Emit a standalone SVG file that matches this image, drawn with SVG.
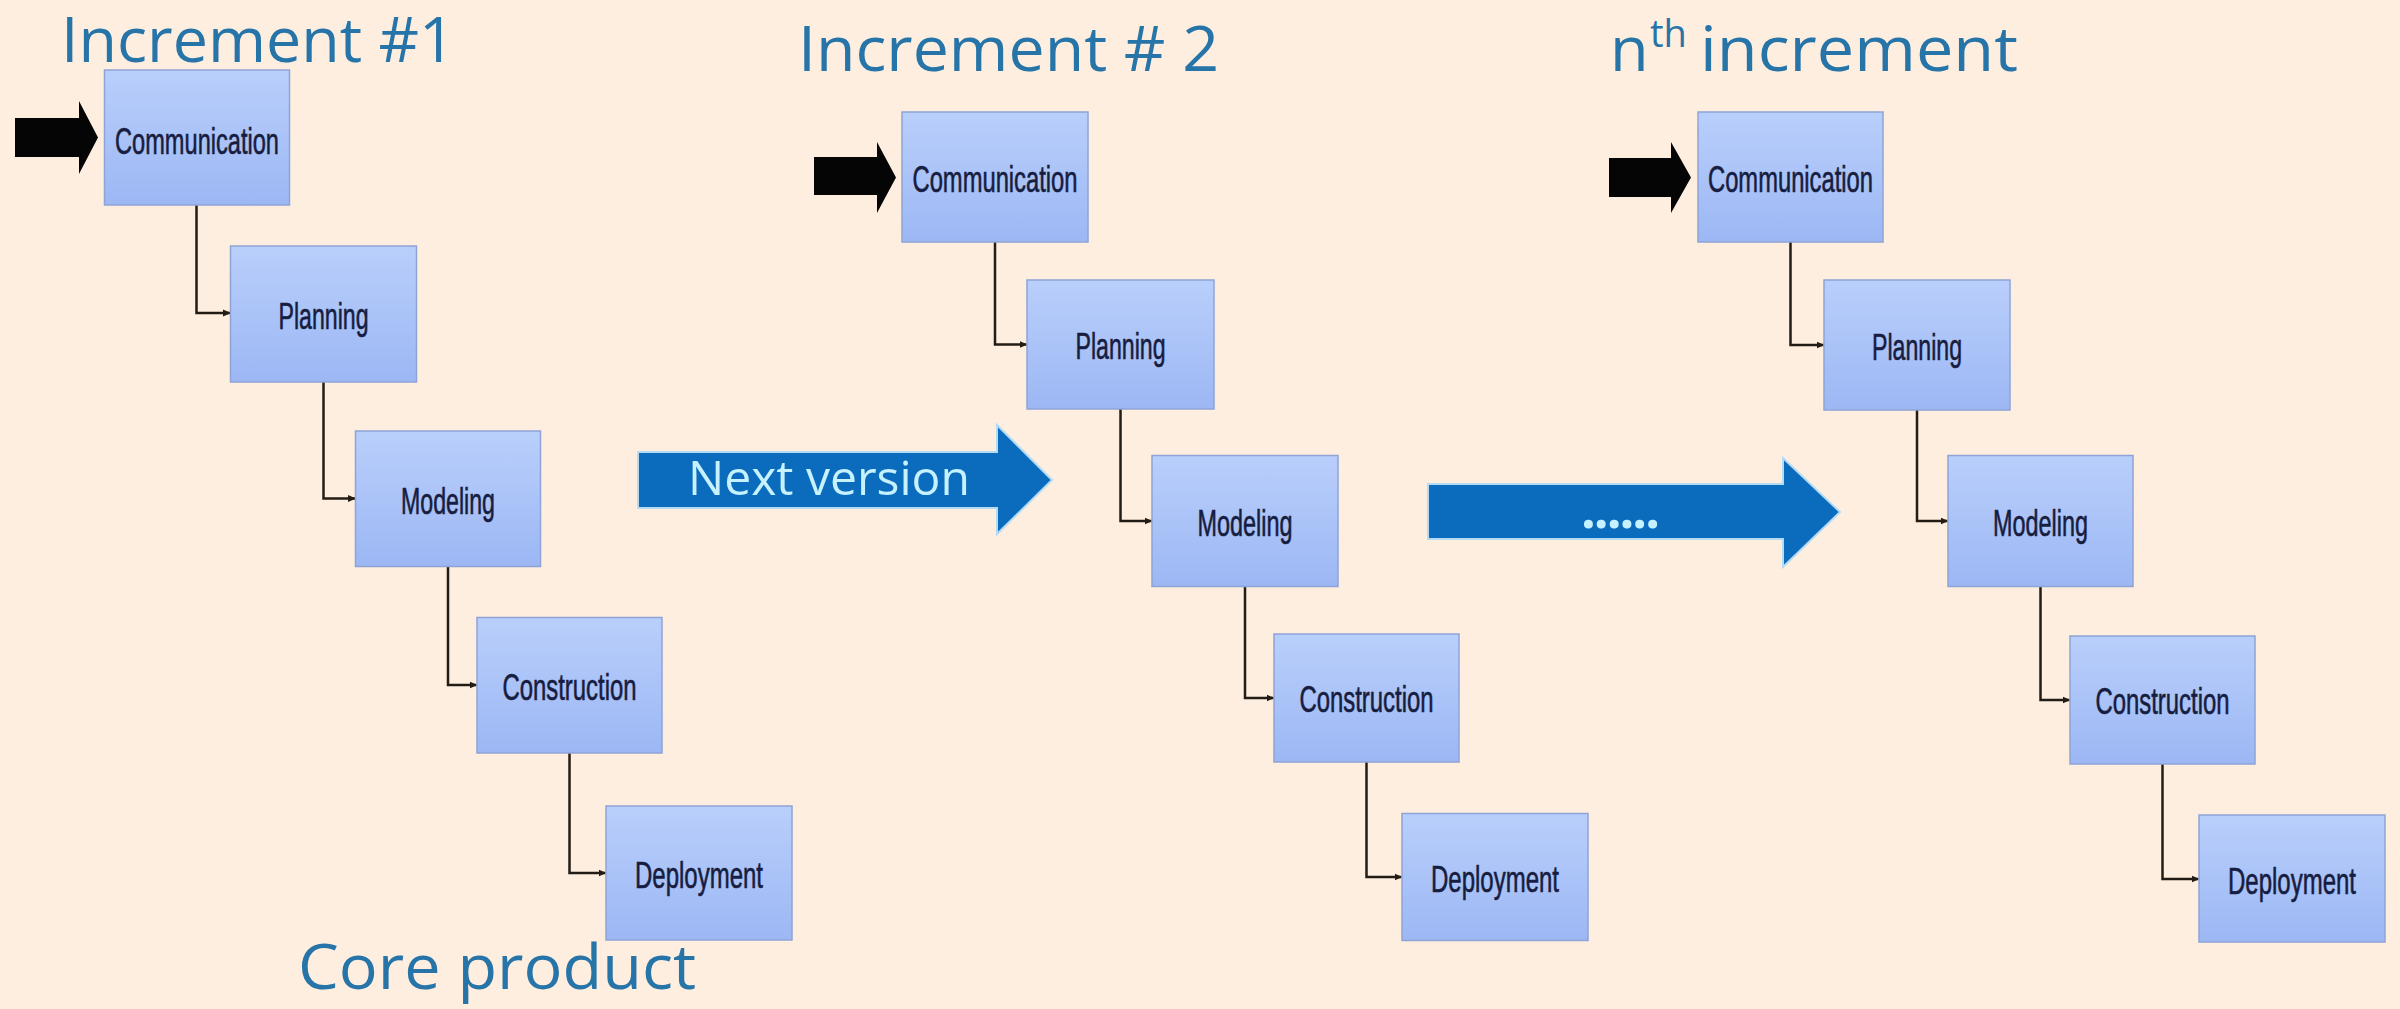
<svg xmlns="http://www.w3.org/2000/svg" width="2400" height="1009" viewBox="0 0 2400 1009">
  <defs>
    <linearGradient id="boxFill" x1="0" y1="0" x2="0" y2="1">
      <stop offset="0" stop-color="#b9cffb"/>
      <stop offset="1" stop-color="#9cb7f4"/>
    </linearGradient>
    <marker id="tip" markerWidth="8" markerHeight="8" refX="7" refY="4" orient="auto" markerUnits="userSpaceOnUse">
      <path d="M0,0.5 L8,4 L0,7.5 Z" fill="#231c14"/>
    </marker>
    <style>
      .box { fill: url(#boxFill); stroke: #8ea4d6; stroke-width: 1.5; }
      .lbl { font-family: "Liberation Sans", Arial, sans-serif; font-size: 36px; fill: #171d40; stroke: #171d40; stroke-width: 0.6; text-anchor: middle; }
      .title { font-family: "Open Sans", "Noto Sans", sans-serif; font-size: 63px; fill: #2774a8; }
      .link { fill: none; stroke: #231c14; stroke-width: 2.5; marker-end: url(#tip); }
      .entry { fill: #050505; }
      .flow { fill: #0b6cbd; stroke: #b4dbf3; stroke-width: 2; }
      .flowtxt { font-family: "Open Sans", "Noto Sans", sans-serif; fill: #c6f1ff; }
    </style>
  </defs>

  <rect x="0" y="0" width="2400" height="1009" fill="#fdeee0"/>

  <!-- headings -->
  <g id="headings">
    <text class="title" x="61" y="62" textLength="394" lengthAdjust="spacingAndGlyphs">Increment #1</text>
    <text class="title" x="798" y="71" textLength="421" lengthAdjust="spacingAndGlyphs">Increment # 2</text>
    <text class="title" x="1610" y="71">n<tspan x="1650" y="47" font-size="38">th</tspan><tspan x="1700" y="71" textLength="318" lengthAdjust="spacingAndGlyphs">increment</tspan></text>
    <text class="title" x="298" y="989" font-size="64" textLength="398" lengthAdjust="spacingAndGlyphs">Core product</text>
  </g>

  <!-- entry arrows -->
  <g id="entry-arrows">
    <path class="entry" d="M15,118 H79 V101 L98,137.5 L79,174 V157 H15 Z"/>
    <path class="entry" d="M814,157 H877 V142 L896,177.5 L877,213 V195 H814 Z"/>
    <path class="entry" d="M1609,158 H1671 V142 L1691,177.5 L1671,213 V197 H1609 Z"/>
  </g>

  <!-- block arrows between increments -->
  <g id="next-version">
    <path class="flow" d="M638,452 H997 V425 L1052,480 L997,534 V508 H638 Z"/>
    <text class="flowtxt" x="688" y="495" font-size="48" textLength="282" lengthAdjust="spacingAndGlyphs">Next version</text>
  </g>
  <g id="more-increments">
    <path class="flow" d="M1428,484 H1783 V458 L1840,512 L1783,567 V539 H1428 Z"/>
    <text class="flowtxt" x="1581" y="528" font-size="52" font-weight="bold" textLength="79" lengthAdjust="spacing" fill="#8fdcff">......</text>
  </g>

  <!-- connectors -->
  <g id="connectors">
    <path class="link" d="M196.5,205 V313 H230"/>
    <path class="link" d="M323.5,382 V498.5 H355"/>
    <path class="link" d="M448,566.5 V685 H476.5"/>
    <path class="link" d="M569.5,753 V873 H605.5"/>

    <path class="link" d="M995,242 V344.5 H1026.5"/>
    <path class="link" d="M1120.5,409 V521 H1151.5"/>
    <path class="link" d="M1245,586.5 V698 H1273.5"/>
    <path class="link" d="M1366.5,762 V877 H1401.5"/>

    <path class="link" d="M1790.5,242 V345 H1823.5"/>
    <path class="link" d="M1917,410 V521 H1947.5"/>
    <path class="link" d="M2040.5,586.5 V700 H2069.5"/>
    <path class="link" d="M2162.5,764 V879 H2198.5"/>
  </g>

  <!-- increment 1 -->
  <g id="inc1-communication">
    <rect class="box" x="104.5" y="70" width="185" height="135"/>
    <text class="lbl" x="197" y="154" textLength="164" lengthAdjust="spacingAndGlyphs">Communication</text>
  </g>
  <g id="inc1-planning">
    <rect class="box" x="230.5" y="246" width="186" height="136"/>
    <text class="lbl" x="323.5" y="329" textLength="90" lengthAdjust="spacingAndGlyphs">Planning</text>
  </g>
  <g id="inc1-modeling">
    <rect class="box" x="355.5" y="431" width="185" height="135.5"/>
    <text class="lbl" x="448" y="514" textLength="94" lengthAdjust="spacingAndGlyphs">Modeling</text>
  </g>
  <g id="inc1-construction">
    <rect class="box" x="477" y="617.5" width="185" height="135.5"/>
    <text class="lbl" x="569.5" y="700" textLength="134" lengthAdjust="spacingAndGlyphs">Construction</text>
  </g>
  <g id="inc1-deployment">
    <rect class="box" x="606" y="806" width="186" height="134"/>
    <text class="lbl" x="699" y="888" textLength="128" lengthAdjust="spacingAndGlyphs">Deployment</text>
  </g>

  <!-- increment 2 -->
  <g id="inc2-communication">
    <rect class="box" x="902" y="112" width="186" height="130"/>
    <text class="lbl" x="995" y="192" textLength="165" lengthAdjust="spacingAndGlyphs">Communication</text>
  </g>
  <g id="inc2-planning">
    <rect class="box" x="1027" y="280" width="187" height="129"/>
    <text class="lbl" x="1120.5" y="359" textLength="90" lengthAdjust="spacingAndGlyphs">Planning</text>
  </g>
  <g id="inc2-modeling">
    <rect class="box" x="1152" y="455.5" width="186" height="131"/>
    <text class="lbl" x="1245" y="536" textLength="95" lengthAdjust="spacingAndGlyphs">Modeling</text>
  </g>
  <g id="inc2-construction">
    <rect class="box" x="1274" y="634" width="185" height="128"/>
    <text class="lbl" x="1366.5" y="712" textLength="134" lengthAdjust="spacingAndGlyphs">Construction</text>
  </g>
  <g id="inc2-deployment">
    <rect class="box" x="1402" y="813.5" width="186" height="127"/>
    <text class="lbl" x="1495" y="892" textLength="128" lengthAdjust="spacingAndGlyphs">Deployment</text>
  </g>

  <!-- increment n -->
  <g id="incn-communication">
    <rect class="box" x="1698" y="112" width="185" height="130"/>
    <text class="lbl" x="1790.5" y="192" textLength="165" lengthAdjust="spacingAndGlyphs">Communication</text>
  </g>
  <g id="incn-planning">
    <rect class="box" x="1824" y="280" width="186" height="130"/>
    <text class="lbl" x="1917" y="360" textLength="90" lengthAdjust="spacingAndGlyphs">Planning</text>
  </g>
  <g id="incn-modeling">
    <rect class="box" x="1948" y="455.5" width="185" height="131"/>
    <text class="lbl" x="2040.5" y="536" textLength="95" lengthAdjust="spacingAndGlyphs">Modeling</text>
  </g>
  <g id="incn-construction">
    <rect class="box" x="2070" y="636" width="185" height="128"/>
    <text class="lbl" x="2162.5" y="714" textLength="134" lengthAdjust="spacingAndGlyphs">Construction</text>
  </g>
  <g id="incn-deployment">
    <rect class="box" x="2199" y="815" width="186" height="127"/>
    <text class="lbl" x="2292" y="894" textLength="128" lengthAdjust="spacingAndGlyphs">Deployment</text>
  </g>
</svg>
